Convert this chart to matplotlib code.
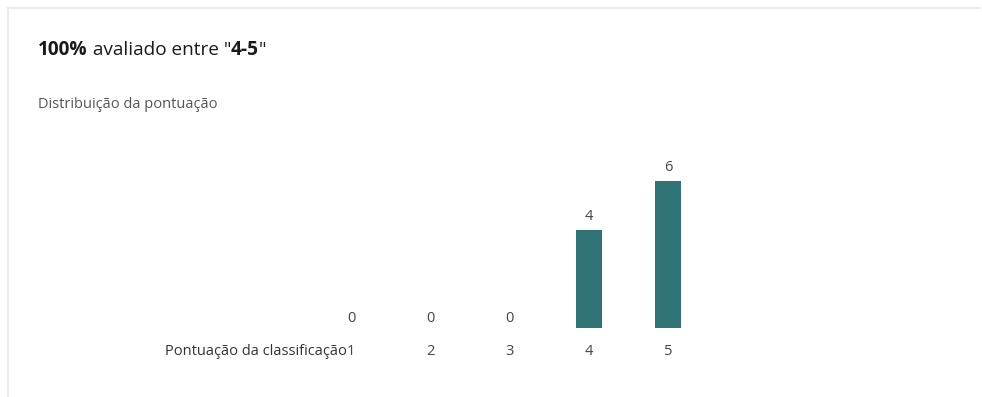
import matplotlib
matplotlib.use("Agg")
import matplotlib.pyplot as plt
from matplotlib.lines import Line2D

categories = ["1", "2", "3", "4", "5"]
values = [0, 0, 0, 4, 6]
title_parts = [("100%", "bold"), (" avaliado entre \"", "normal"), ("4-5", "bold"), ("\"", "normal")]
subtitle = "Distribuição da pontuação"
axis_label = "Pontuação da classificação"

W, H = 982, 397
fig = plt.figure(figsize=(W / 100, H / 100), dpi=100)
plt.rcParams['font.family'] = ['Open Sans', 'DejaVu Sans']

# card border
fig.add_artist(Line2D([8 / W, 980 / W], [1 - 8 / H, 1 - 8 / H], color="#e8e8e8", lw=1.2))
fig.add_artist(Line2D([8 / W, 8 / W], [1 - 8 / H, 0], color="#e8e8e8", lw=1.2))

# axes placed so category centres land at the reference positions
left_px, right_px = 311.5, 707.5
bottom_px, top_px = 328, 181
ax = fig.add_axes([left_px / W, 1 - bottom_px / H, (right_px - left_px) / W, (bottom_px - top_px) / H])
x = list(range(1, len(categories) + 1))
ax.bar(x, values, width=0.33, color="#2f7377")
ax.set_xlim(0.5, len(categories) + 0.5)
ax.set_ylim(0, 6)
ax.axis("off")
for xi, v in zip(x, values):
    off = 4 if v > 0 else 1.5
    ax.annotate(str(v), (xi, v), xytext=(0, off), textcoords="offset points",
                ha="center", va="bottom", fontsize=10.5, color="#444444")
for xi, c in zip(x, categories):
    ax.annotate(c, (xi, 0), xytext=(0, -11.5), textcoords="offset points",
                ha="center", va="top", fontsize=10.5, color="#444444")

# axis label left of first tick
ax.annotate(axis_label, (1, 0), xytext=(-3, -11.5), textcoords="offset points",
            ha="right", va="top", fontsize=10.5, color="#333333")

# title with mixed weights
renderer = fig.canvas.get_renderer()
cx = 38 / W
ty = 1 - 50 / H
for txt, wt in title_parts:
    t = fig.text(cx, ty, txt, fontsize=13.7, fontweight=wt, color="#1a1a1a", va="center", ha="left")
    bb = t.get_window_extent(renderer=renderer)
    cx = bb.x1 / W

fig.text(38 / W, 1 - 104 / H, subtitle, fontsize=10.5, color="#555555", va="center", ha="left")

fig.savefig("out.png", dpi=100, facecolor="white")
